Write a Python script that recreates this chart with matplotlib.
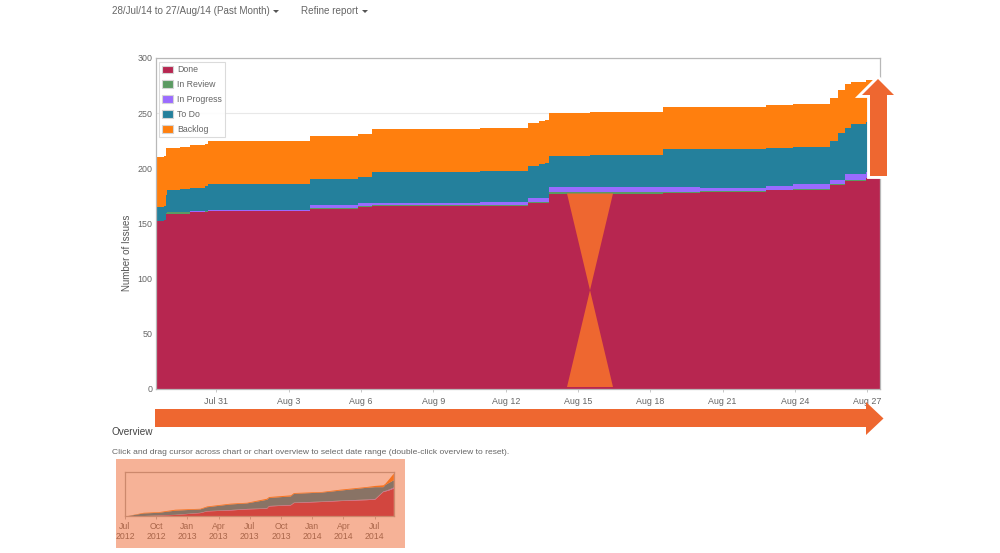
"""
Cumulative flow diagram, past month, with overview strip and orange annotations.
"""
import numpy as np
import matplotlib
matplotlib.use("Agg")
import matplotlib.pyplot as plt
from matplotlib.patches import Patch, Polygon, Rectangle

plt.rcParams["font.family"] = ["Liberation Sans", "DejaVu Sans"]

W, H = 1000, 553
ACCENT = "#ee6730"
TEXT = "#666666"
COLORS = {"Done": "#b72650", "In Review": "#5b9a62", "In Progress": "#9a6bff",
          "To Do": "#24809c", "Backlog": "#ff7f0e"}

# days since Jul 28, with the top edge of each stacked band
days = [0.49, 0.82, 0.90, 0.95, 1.49, 1.90, 2.52, 2.65, 6.88, 8.87, 9.45, 13.93,
        15.93, 16.4, 16.63, 16.8, 18.5, 21.53, 23.06, 25.8, 26.92, 28.45, 28.79,
        29.07, 29.32, 29.95, 30.53]
done = [152, 153, 159, 159, 159, 160, 160.5, 161, 163.5, 165, 165.5, 165.5,
        168.3, 168.3, 168.3, 177, 177, 178, 178.9, 180, 180.4, 184.9, 184.9,
        188.5, 188.5, 191, 191]
review = [152, 153, 159.5, 160, 160, 160.5, 161, 161.5, 164.5, 166, 166.5, 166.5,
          169.2, 169.2, 169.2, 178.6, 178.6, 178.8, 179.5, 180.5, 181, 185.5, 185.5,
          189, 189, 191.5, 191.5]
progress = [152, 153, 159.5, 160, 160, 161, 161.5, 162, 167, 168.5, 169, 169.2,
            173.4, 173.4, 173.4, 182.7, 182.7, 182.7, 182.4, 184, 185.5, 189.4, 189.4,
            194.9, 194.9, 197, 197]
todo = [165, 166, 176, 180, 181, 182.5, 184, 186, 190, 192, 197, 198,
        202.4, 203.5, 205, 211.5, 212.5, 217.2, 217.5, 218, 219, 225, 232,
        237, 240, 241.8, 242.5]
backlog = [210, 211, 218, 218, 219, 221, 222, 224.5, 229, 231, 235.5, 236.8,
           241, 243, 244, 250, 251, 256, 256, 257, 258, 264, 271,
           276, 278.5, 280, 281]
tick_days = [3, 6, 9, 12, 15, 18, 21, 24, 27, 30]
tick_labels = ["Jul 31", "Aug 3", "Aug 6", "Aug 9", "Aug 12", "Aug 15", "Aug 18",
               "Aug 21", "Aug 24", "Aug 27"]
y_ticks = [0, 50, 100, 150, 200, 250, 300]

# overview: months since Jul 2012
ov_months = [0, 1.76, 3.2, 4.8, 7.2, 7.85, 10.1, 11.7, 13.6, 13.8, 15.9, 16.2,
             18.9, 20.7, 23.2, 24, 24.8, 25, 25.4, 25.8]
ov_done = [0, 3, 6, 10, 22, 33, 39, 46, 50, 65, 72, 87, 94, 100, 106, 109, 159,
           162, 170, 181]
ov_progress = [0, 3, 7, 11, 24, 35, 42, 49, 53, 68, 75, 90, 97, 103, 110, 113, 163,
               166, 176, 188]
ov_todo = [0, 20, 24, 38, 46, 60, 78, 85, 108, 120, 130, 147, 155, 168, 186, 190,
           190, 205, 220, 235]
ov_total = [0, 24, 28, 44, 50, 65, 83, 89, 115, 126, 137, 152, 159, 174, 191, 198,
            202, 213, 245, 278]
ov_ticks = [0, 3, 6, 9, 12, 15, 18, 21, 24]
ov_labels = ["Jul\n2012", "Oct\n2012", "Jan\n2013", "Apr\n2013", "Jul\n2013",
             "Oct\n2013", "Jan\n2014", "Apr\n2014", "Jul\n2014"]


def px_axes(fig, left, top, right, bottom):
    return fig.add_axes([left / W, 1 - bottom / H, (right - left) / W, (bottom - top) / H])


def style_frame(ax, color="#b8b8b8"):
    for s in ax.spines.values():
        s.set_color(color)
        s.set_linewidth(0.9)


fig = plt.figure(figsize=(W / 100, H / 100), dpi=100, facecolor="white")

# main chart
ax = px_axes(fig, 156, 58, 880, 389)
x = np.array(days)
bands = [("Done", np.zeros(len(x)), done), ("In Review", done, review),
         ("In Progress", review, progress), ("To Do", progress, todo),
         ("Backlog", todo, backlog)]
for name, lo, hi in bands:
    ax.fill_between(x, lo, hi, step="post", color=COLORS[name], lw=0, zorder=2)
ax.set_xlim(0.49, 30.53)
ax.set_ylim(0, 300)
ax.set_yticks(y_ticks)
ax.set_xticks(tick_days, tick_labels)
ax.yaxis.grid(True, color="#e8e8e8", lw=0.8, zorder=0)
ax.set_axisbelow(True)
ax.tick_params(axis="y", length=0, pad=2.5, labelsize=6.4, labelcolor=TEXT)
ax.tick_params(axis="x", length=2.5, width=0.7, color="#c8c8c8", pad=3,
               labelsize=6.4, labelcolor=TEXT)
style_frame(ax)
ax.set_ylabel("Number of Issues", fontsize=7.0, color="#555555")
ax.yaxis.set_label_coords(-0.033, 0.41)
handles = [Patch(facecolor=COLORS[n], edgecolor="#d5d5d5", lw=0.8, label=n)
           for n in ["Done", "In Review", "In Progress", "To Do", "Backlog"]]
leg = ax.legend(handles=handles, loc="upper left", bbox_to_anchor=(0.0035, 0.988),
                borderaxespad=0, fontsize=6.3, labelcolor=TEXT, fancybox=False,
                framealpha=0.9, edgecolor="#d8d8d8", handlelength=1.25, handleheight=1.0,
                handletextpad=0.45, labelspacing=0.67, borderpad=0.4)
leg.get_frame().set_linewidth(0.8)

# overview chart
ov = px_axes(fig, 125, 472, 394, 516)
ov.fill_between(ov_months, 0, ov_done, color=COLORS["Done"], lw=0)
ov.fill_between(ov_months, ov_done, ov_progress, color=COLORS["In Progress"], lw=0)
ov.fill_between(ov_months, ov_progress, ov_todo, color=COLORS["To Do"], lw=0)
ov.fill_between(ov_months, ov_todo, ov_total, color=COLORS["Backlog"], lw=0)
ov.set_xlim(0, 25.86)
ov.set_ylim(0, 285)
ov.set_yticks([])
ov.set_xticks(ov_ticks, ov_labels)
ov.tick_params(axis="x", length=2, width=0.6, color="#aaaaaa", pad=2,
               labelsize=6.3, labelcolor=TEXT)
style_frame(ov, "#aaaaaa")

# page text plus annotations, in pixel coordinates
top = fig.add_axes([0, 0, 1, 1], zorder=10)
top.set_xlim(0, W)
top.set_ylim(H, 0)
top.axis("off")
top.patch.set_alpha(0)

top.text(112, 11.5, "28/Jul/14 to 27/Aug/14 (Past Month)", fontsize=7.1, color=TEXT,
         va="center")
top.text(301, 11.5, "Refine report", fontsize=7.1, color=TEXT, va="center")
for cx in (276, 365):
    top.add_patch(Polygon([(cx - 3, 10), (cx + 3, 10), (cx, 13)], fc="#555555", lw=0))
top.text(112, 432, "Overview", fontsize=7.2, color="#444444", va="center")
top.text(112, 452, "Click and drag cursor across chart or chart overview to select "
         "date range (double-click overview to reset).", fontsize=6.1, color=TEXT,
         va="center")

# translucent box over the overview
top.add_patch(Rectangle((116, 459), 289, 89, fc=ACCENT, alpha=0.5, lw=0))
# bowtie on the Done band
top.add_patch(Polygon([(567, 193.5), (613, 193.5), (567, 387), (613, 387)], fc=ACCENT, lw=0))
# arrow along the time axis
top.add_patch(Polygon([(155, 409), (866, 409), (866, 402), (883.5, 418.5), (866, 435),
                       (866, 427), (155, 427)], fc=ACCENT, lw=0))
# up arrow at the right edge, white halo first so it stays outside the orange
up_arrow = [(878, 79), (894, 95), (887, 95), (887, 176), (870, 176), (870, 95), (862, 95)]
top.add_patch(Polygon(up_arrow, fc="white", ec="white", lw=4.2, joinstyle="miter"))
top.add_patch(Polygon(up_arrow, fc=ACCENT, lw=0))

fig.savefig("out.png", dpi=100, facecolor="white")
